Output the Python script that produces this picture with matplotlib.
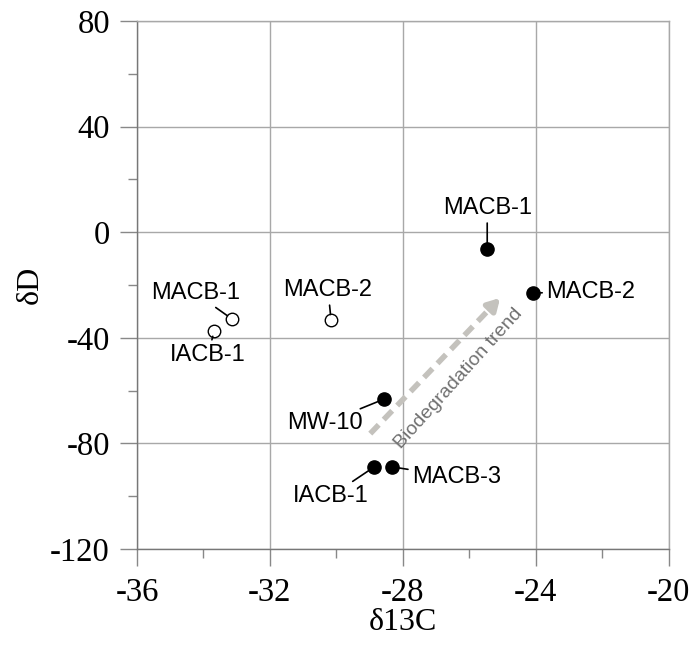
import matplotlib
matplotlib.use('Agg')
import matplotlib.pyplot as plt
import numpy as np

plt.rcParams['axes.unicode_minus'] = False

# open circles
open_x = [-33.14, -33.68, -30.16]
open_y = [-32.9, -37.4, -33.3]
open_lab = ['MACB-1', 'IACB-1', 'MACB-2']
open_txt = [(-34.25, -23.0, 'center'), (-33.86, -46.5, 'center'), (-30.25, -21.9, 'center')]

# filled circles
fill_x = [-25.46, -24.07, -28.56, -28.86, -28.32]
fill_y = [-6.4, -23.0, -63.2, -88.9, -88.9]
fill_lab = ['MACB-1', 'MACB-2', 'MW-10', 'IACB-1', 'MACB-3']
fill_txt = [(-25.46, 9.2, 'center'), (-23.68, -22.7, 'left'), (-30.34, -72.3, 'center'),
            (-30.16, -99.9, 'center'), (-27.72, -92.7, 'left')]

trend_start = (-28.98, -76.3)
trend_end = (-25.07, -24.9)

serif = ['Liberation Serif', 'DejaVu Serif']
sans = ['Liberation Sans', 'DejaVu Sans']

fig = plt.figure(figsize=(6.9, 6.5), dpi=100)
ax = fig.add_axes([0.1986, 0.1554, 0.7704, 0.8123])

ax.set_xlim(-36, -20)
ax.set_ylim(-120, 80)
ax.set_xticks(np.arange(-36, -19, 4))
ax.set_yticks(np.arange(-120, 81, 40))
ax.set_xticks(np.arange(-34, -20, 4), minor=True)
ax.set_yticks(np.arange(-100, 80, 40), minor=True)
ax.grid(True, which='major', color='#a8a8a8', lw=1)
ax.set_axisbelow(True)
ax.tick_params(which='major', direction='out', length=12.5, width=1, color='#888888',
               labelsize=23.5)
ax.tick_params(axis='y', which='major', pad=7)
ax.tick_params(axis='x', which='major', pad=8)
ax.tick_params(which='minor', direction='out', length=6.5, width=1, color='#888888')
for lab in ax.get_xticklabels() + ax.get_yticklabels():
    lab.set_family(serif)
for s in ax.spines.values():
    s.set_color('#a8a8a8')
    s.set_linewidth(1)
ax.spines['left'].set_color('#777777')
ax.spines['bottom'].set_color('#777777')

ax.set_xlabel('δ13C', family=serif, fontsize=23, labelpad=0)
ax.set_ylabel('δD', family=serif, fontsize=23, labelpad=4)

ax.plot(open_x, open_y, 'o', mfc='white', mec='black', mew=1, ms=9, zorder=3)
ax.plot(fill_x, fill_y, 'o', color='black', ms=9.5, zorder=3)

for (x, y, lab, (tx, ty, ha)) in zip(open_x + fill_x, open_y + fill_y,
                                     open_lab + fill_lab, open_txt + fill_txt):
    ax.annotate(lab, xy=(x, y), xytext=(tx, ty), ha=ha, va='center',
                family=sans, fontsize=17,
                arrowprops=dict(arrowstyle='-', color='black', lw=1.2,
                                shrinkA=1, shrinkB=4), zorder=4)

# biodegradation trend arrow
frac = 0.92
mid = (trend_start[0] + frac * (trend_end[0] - trend_start[0]),
       trend_start[1] + frac * (trend_end[1] - trend_start[1]))
ax.plot([trend_start[0], mid[0]], [trend_start[1], mid[1]], color='#c4c2bd',
        lw=4, ls=(0, (2.2, 1.3)), zorder=2)
ax.annotate('', xy=trend_end, xytext=mid,
            arrowprops=dict(arrowstyle='-|>,head_length=0.7,head_width=0.4',
                            color='#c4c2bd', lw=4, shrinkA=0, shrinkB=0), zorder=2)
ax.text(-26.33, -55.6, 'Biodegradation trend', rotation=48, rotation_mode='anchor',
        ha='center', va='center', family=sans, fontsize=14, color='#707070')

fig.savefig('out.png', dpi=100)
